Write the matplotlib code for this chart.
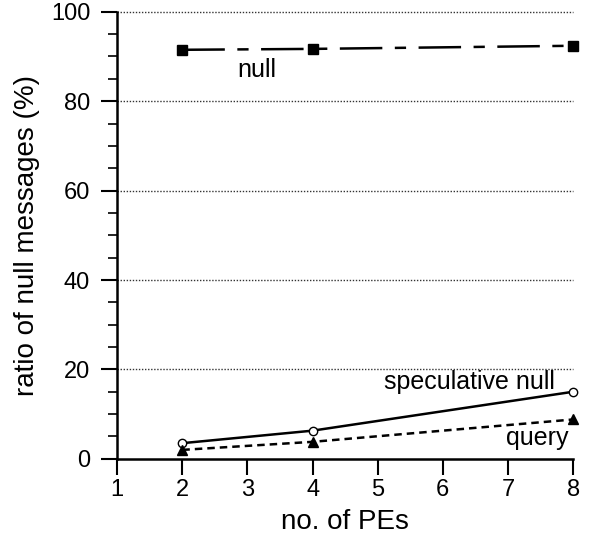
import matplotlib
matplotlib.use("Agg")
import matplotlib.pyplot as plt
from matplotlib.ticker import MultipleLocator

plt.rcParams['font.family'] = ['Liberation Sans', 'DejaVu Sans']

pes = [2, 4, 8]
null_vals = [91.5, 91.7, 92.4]
spec_vals = [3.5, 6.3, 15.0]
query_vals = [2.0, 3.8, 8.8]

fig = plt.figure(figsize=(5.89, 5.36), dpi=100)
ax = fig.add_axes([0.199, 0.144, 0.774, 0.834])

ax.set_xlim(1, 8)
ax.set_ylim(0, 100)

for y in [20, 40, 60, 80, 100]:
    ax.axhline(y, color='#333333', lw=1.0, ls=(0, (1, 1.2)), zorder=1, clip_on=False)

ax.plot(pes, null_vals, color='black', lw=1.8, ls=(0, (17, 5, 4.5, 5)),
        marker='s', ms=7, mfc='black', mec='black', zorder=3, clip_on=False)
ax.plot(pes, spec_vals, color='black', lw=1.8, ls='-',
        marker='o', ms=6, mfc='white', mec='black', mew=1.0, zorder=3, clip_on=False)
ax.plot(pes, query_vals, color='black', lw=1.8, ls=(0, (3, 2)),
        marker='^', ms=7, mfc='black', mec='black', zorder=3, clip_on=False)

ax.text(3.15, 87.0, 'null', fontsize=18, ha='center', va='center')
ax.text(7.72, 17.2, 'speculative null', fontsize=18, ha='right', va='center')
ax.text(7.93, 4.6, 'query', fontsize=18, ha='right', va='center')

ax.spines['top'].set_visible(False)
ax.spines['right'].set_visible(False)
ax.spines['left'].set_linewidth(1.8)
ax.spines['bottom'].set_linewidth(1.8)

ax.xaxis.set_major_locator(MultipleLocator(1))
ax.yaxis.set_major_locator(MultipleLocator(20))
ax.yaxis.set_minor_locator(MultipleLocator(5))
ax.tick_params(axis='both', which='major', direction='out', length=11.5, width=1.5, labelsize=17, colors='black')
ax.tick_params(axis='y', which='major', pad=8)
ax.tick_params(axis='x', which='major', pad=3)
ax.tick_params(axis='y', which='minor', direction='out', length=6.5, width=1.2)

ax.set_xlabel('no. of PEs', fontsize=20, labelpad=6)
ax.set_ylabel('ratio of null messages (%)', fontsize=20, labelpad=8)

fig.savefig('out.png', dpi=100)
